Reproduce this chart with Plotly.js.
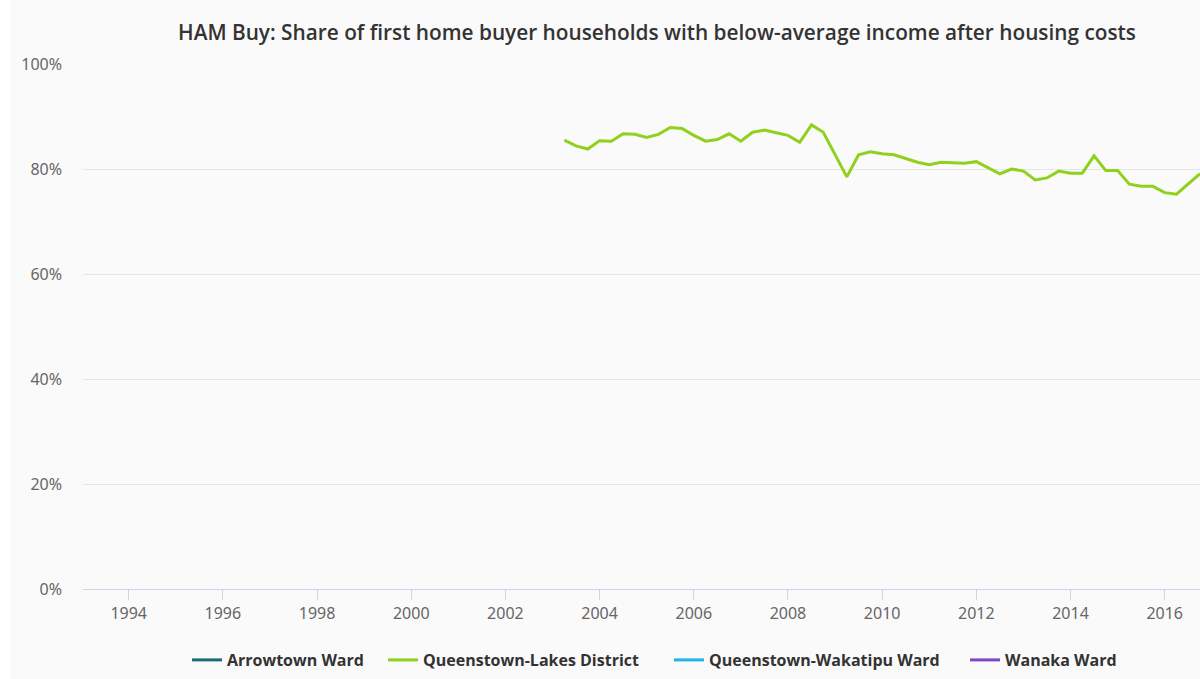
<!DOCTYPE html>
<html>
<head>
<meta charset="utf-8">
<script src="https://cdn.plot.ly/plotly-3.0.1.min.js"></script>
<style>
html, body { margin: 0; padding: 0; background: #ffffff; }
#chart { position: absolute; left: 10px; top: 0; width: 1190px; height: 679px; }
</style>
</head>
<body>
<div id="chart"></div>
<script>
// Quarterly observations (decimal year)
const years = [
  2003.25, 2003.5, 2003.75, 2004.0, 2004.25, 2004.5, 2004.75, 2005.0, 2005.25, 2005.5, 2005.75,
  2006.0, 2006.25, 2006.5, 2006.75, 2007.0, 2007.25, 2007.5, 2007.75, 2008.0, 2008.25, 2008.5, 2008.75,
  2009.0, 2009.25, 2009.5, 2009.75, 2010.0, 2010.25, 2010.5, 2010.75, 2011.0, 2011.25, 2011.5, 2011.75,
  2012.0, 2012.25, 2012.5, 2012.75, 2013.0, 2013.25, 2013.5, 2013.75, 2014.0, 2014.25, 2014.5, 2014.75,
  2015.0, 2015.25, 2015.5, 2015.75, 2016.0, 2016.25, 2016.5, 2016.75
];
const queenstownLakes = [
  85.5, 84.4, 83.8, 85.4, 85.3, 86.7, 86.6, 86.0, 86.6, 87.9, 87.7,
  86.4, 85.3, 85.6, 86.7, 85.3, 87.0, 87.4, 86.9, 86.4, 85.1, 88.4, 87.0,
  82.7, 78.5, 82.7, 83.3, 82.9, 82.7, 82.0, 81.3, 80.8, 81.3, 81.2, 81.1,
  81.4, 80.2, 79.1, 80.0, 79.6, 77.9, 78.3, 79.6, 79.2, 79.2, 82.5, 79.7,
  79.7, 77.1, 76.7, 76.7, 75.5, 75.2, 77.2, 79.1
];
const arrowtown = [];
const wakatipu = [];
const wanaka = [];

const seriesNames = ["Arrowtown Ward", "Queenstown-Lakes District", "Queenstown-Wakatipu Ward", "Wanaka Ward"];
const seriesColors = ["#1d6b72", "#8fd11c", "#1ab7e2", "#7c48c8"];
const seriesValues = [arrowtown, queenstownLakes, wakatipu, wanaka];
const legendWidths = [151, 241, 251, 115];

const xTickVals = [1994, 1996, 1998, 2000, 2002, 2004, 2006, 2008, 2010, 2012, 2014, 2016];
const yTickVals = [0, 20, 40, 60, 80, 100];

const traces = seriesNames.map((name, i) => {
  const vals = seriesValues[i];
  return {
    type: 'scatter',
    mode: 'lines',
    name: name,
    x: vals.length ? years.slice(0, vals.length) : [null],
    y: vals.length ? vals : [null],
    line: { color: seriesColors[i], width: 3 },
    showlegend: true,
    legendwidth: legendWidths[i],
    hoverinfo: 'x+y+name'
  };
});

const layout = {
  width: 1190,
  height: 679,
  margin: { l: 73, r: 0, t: 64, b: 90 },
  paper_bgcolor: '#fafafa',
  plot_bgcolor: '#fafafa',
  title: {
    text: 'HAM Buy: Share of first home buyer households with below-average income after housing costs',
    font: { family: 'Open Sans, sans-serif', size: 20.8, color: '#333333', weight: 600 },
    x: 168 / 1190, xanchor: 'left', xref: 'container',
    y: 1 - 33 / 679, yanchor: 'middle', yref: 'container'
  },
  xaxis: {
    range: [1993.03, 2016.75],
    tickmode: 'array',
    tickvals: xTickVals,
    ticktext: xTickVals.map(String),
    showgrid: false,
    zeroline: false,
    showline: true,
    linecolor: '#ccd6eb',
    linewidth: 1,
    ticks: 'outside',
    ticklen: 10,
    tickcolor: '#ccd6eb',
    tickfont: { family: 'Noto Sans, sans-serif', size: 16, color: '#666666' },
    fixedrange: true
  },
  yaxis: {
    range: [0, 100],
    tickmode: 'array',
    tickvals: yTickVals,
    ticktext: yTickVals.map(v => v + '%'),
    showgrid: true,
    gridcolor: '#e6e6e6',
    gridwidth: 1,
    zeroline: false,
    showline: false,
    ticks: '',
    ticklabelstandoff: 20,
    tickfont: { family: 'Noto Sans, sans-serif', size: 16, color: '#666666' },
    fixedrange: true
  },
  legend: {
    orientation: 'h',
    x: (187 - 83) / 1117,
    xanchor: 'left',
    y: -(660 - 589) / 525,
    yanchor: 'middle',
    font: { family: 'Open Sans, sans-serif', size: 16, color: '#333333', weight: 700 },
    bgcolor: 'rgba(0,0,0,0)'
  },
  showlegend: true
};

Plotly.newPlot('chart', traces, layout, { displayModeBar: false, staticPlot: false });
</script>
</body>
</html>
